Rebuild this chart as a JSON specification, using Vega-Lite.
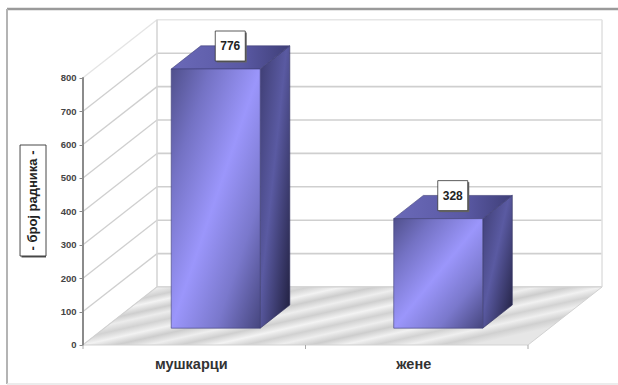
{
  "$schema": "https://vega.github.io/schema/vega-lite/v6.json",
  "autosize": "none",
  "width": 607,
  "height": 373,
  "padding": {"left": 7, "top": 9, "right": 4, "bottom": 3},
  "background": "#ffffff",
  "config": {"view": {"stroke": null}, "font": "Liberation Sans"},
  "resolve": {"axis": {"y": "independent"}},
  "datasets": {
    "bars": [
      {"category": "мушкарци", "value": 776, "slot": 0.5},
      {"category": "жене", "value": 328, "slot": 1.5}
    ],
    "ticks": [
      {"count": 0}, {"count": 100}, {"count": 200}, {"count": 300}, {"count": 400},
      {"count": 500}, {"count": 600}, {"count": 700}, {"count": 800}
    ],
    "floor": [{"depth": 0}, {"depth": 1}],
    "catTicks": [{"edge": 0}, {"edge": 1}, {"edge": 2}]
  },
  "layer": [
    {
      "data": {"name": "ticks"},
      "transform": [{"calculate": "datum.count + 173.6", "as": "backY"}],
      "mark": {"type": "rule", "strokeWidth": 1.3},
      "encoding": {
        "color": {"condition": {"test": "datum.count === 800", "value": "#e4e4e4"}, "value": "#cfcfcf"},
        "x": {"datum": 0, "type": "quantitative", "scale": {"domain": [-0.3416, 2.3865], "nice": false}, "axis": null},
        "x2": {"datum": 0.3326},
        "y": {
          "field": "count", "type": "quantitative",
          "scale": {"domain": [-110.8, 1006], "nice": false},
          "axis": {
            "offset": -76, "values": [0, 100, 200, 300, 400, 500, 600, 700, 800], "title": null, "grid": false,
            "domain": false, "tickColor": "#888888", "tickSize": 4, "labelColor": "#444444",
            "labelFontSize": 9.5, "labelFontWeight": "bold", "labelPadding": 3, "labelFont": "Liberation Sans"
          }
        },
        "y2": {"field": "backY"}
      }
    },
    {
      "data": {"name": "ticks"},
      "transform": [{"calculate": "datum.count + 173.6", "as": "backY"}],
      "mark": {"type": "rule", "strokeWidth": 1.6},
      "encoding": {
        "color": {"condition": {"test": "datum.count === 800", "value": "#e6e6e6"}, "value": "#cfcfcf"},
        "x": {"datum": 0.3326, "type": "quantitative", "scale": {"domain": [-0.3416, 2.3865], "nice": false}, "axis": null},
        "x2": {"datum": 2.3326},
        "y": {"field": "backY", "type": "quantitative", "scale": {"domain": [-110.8, 1006], "nice": false}, "axis": null}
      }
    },
    {
      "data": {"name": "floor"},
      "transform": [{"calculate": "0.3326 + datum.depth * 2", "as": "edgeX"}],
      "mark": {"type": "rule", "strokeWidth": 1.6},
      "encoding": {
        "color": {"condition": {"test": "datum.depth === 1", "value": "#e2e2e2"}, "value": "#d6d6d6"},
        "x": {"field": "edgeX", "type": "quantitative", "scale": {"domain": [-0.3416, 2.3865], "nice": false}, "axis": null},
        "y": {"datum": 173.6, "type": "quantitative", "scale": {"domain": [-110.8, 1006], "nice": false}, "axis": null},
        "y2": {"datum": 973.6}
      }
    },
    {
      "data": {"name": "floor"},
      "transform": [{"calculate": "datum.depth * 0.3326", "as": "left"}, {"calculate": "2 + datum.depth * 0.3326", "as": "right"}, {"calculate": "datum.depth * 173.6", "as": "level"}],
      "mark": {
        "type": "area", "orient": "horizontal", "stroke": "#d2d2d2", "strokeWidth": 1,
        "fill": {
          "gradient": "linear", "x1": 0, "y1": 0, "x2": 1, "y2": 0.5,
          "stops": [
            {"offset": 0, "color": "#dedede"}, {"offset": 0.04, "color": "#f2f2f2"}, {"offset": 0.08, "color": "#cccccc"},
            {"offset": 0.12, "color": "#eeeeee"}, {"offset": 0.17, "color": "#d0d0d0"}, {"offset": 0.21, "color": "#f3f3f3"},
            {"offset": 0.26, "color": "#cecece"}, {"offset": 0.3, "color": "#ececec"}, {"offset": 0.35, "color": "#d2d2d2"},
            {"offset": 0.4, "color": "#f2f2f2"}, {"offset": 0.45, "color": "#cdcdcd"}, {"offset": 0.5, "color": "#eeeeee"},
            {"offset": 0.55, "color": "#cfcfcf"}, {"offset": 0.6, "color": "#f3f3f3"}, {"offset": 0.65, "color": "#d1d1d1"},
            {"offset": 0.7, "color": "#eeeeee"}, {"offset": 0.75, "color": "#cdcdcd"}, {"offset": 0.8, "color": "#f1f1f1"},
            {"offset": 0.85, "color": "#d2d2d2"}, {"offset": 0.9, "color": "#efefef"}, {"offset": 0.95, "color": "#d0d0d0"},
            {"offset": 1, "color": "#e6e6e6"}
          ]
        }
      },
      "encoding": {
        "y": {"field": "level", "type": "quantitative", "scale": {"domain": [-110.8, 1006], "nice": false}, "axis": null},
        "x": {"field": "left", "type": "quantitative", "scale": {"domain": [-0.3416, 2.3865], "nice": false}, "axis": null},
        "x2": {"field": "right"}
      }
    },
    {
      "data": {"name": "ticks"},
      "mark": {"type": "rule", "color": "#8c8c8c", "strokeWidth": 1.2},
      "encoding": {
        "x": {"datum": 0, "type": "quantitative", "scale": {"domain": [-0.3416, 2.3865], "nice": false}, "axis": null},
        "y": {"datum": 0, "type": "quantitative", "scale": {"domain": [-110.8, 1006], "nice": false}, "axis": null},
        "y2": {"datum": 800}
      }
    },
    {
      "data": {"name": "catTicks"},
      "mark": {"type": "rule", "color": "#aaaaaa", "strokeWidth": 1},
      "encoding": {
        "x": {"field": "edge", "type": "quantitative", "scale": {"domain": [-0.3416, 2.3865], "nice": false}, "axis": null},
        "y": {"datum": 0, "type": "quantitative", "scale": {"domain": [-110.8, 1006], "nice": false}, "axis": null},
        "y2": {"datum": -12}
      }
    },
    {
      "data": {"name": "bars"},
      "transform": [
        {"calculate": "0.29", "as": "front"},
        {"calculate": "0.69", "as": "back"},
        {"fold": ["front", "back"], "as": ["face", "depth"]},
        {"calculate": "datum.slot + 0.2 + datum.depth * 0.3326", "as": "sideX"},
        {"calculate": "datum.depth * 173.6", "as": "base"},
        {"calculate": "datum.value + datum.depth * 173.6", "as": "top"}
      ],
      "mark": {
        "type": "area", "stroke": "#33335f", "strokeWidth": 0.6,
        "fill": {
          "gradient": "linear", "x1": 0, "y1": 0, "x2": 1, "y2": 1,
          "stops": [{"offset": 0, "color": "#3e3d72"}, {"offset": 0.45, "color": "#5a5aa2"}, {"offset": 1, "color": "#1f1e3c"}]
        }
      },
      "encoding": {
        "x": {"field": "sideX", "type": "quantitative", "scale": {"domain": [-0.3416, 2.3865], "nice": false}, "axis": null},
        "y": {"field": "base", "type": "quantitative", "scale": {"domain": [-110.8, 1006], "nice": false}, "axis": null},
        "y2": {"field": "top"},
        "detail": {"field": "category"}
      }
    },
    {
      "data": {"name": "bars"},
      "transform": [
        {"calculate": "0.29", "as": "front"},
        {"calculate": "0.69", "as": "back"},
        {"fold": ["front", "back"], "as": ["face", "depth"]},
        {"calculate": "datum.slot - 0.2 + datum.depth * 0.3326", "as": "topLeft"},
        {"calculate": "datum.slot + 0.2 + datum.depth * 0.3326", "as": "topRight"},
        {"calculate": "datum.value + datum.depth * 173.6", "as": "top"}
      ],
      "mark": {
        "type": "area", "orient": "horizontal", "stroke": "#3f3f78", "strokeWidth": 0.6,
        "fill": {
          "gradient": "linear", "x1": 0, "y1": 0, "x2": 1, "y2": 0,
          "stops": [{"offset": 0, "color": "#6a69b8"}, {"offset": 0.6, "color": "#5a59a4"}, {"offset": 1, "color": "#3f3f78"}]
        }
      },
      "encoding": {
        "y": {"field": "top", "type": "quantitative", "scale": {"domain": [-110.8, 1006], "nice": false}, "axis": null},
        "x": {"field": "topLeft", "type": "quantitative", "scale": {"domain": [-0.3416, 2.3865], "nice": false}, "axis": null},
        "x2": {"field": "topRight"},
        "detail": {"field": "category"}
      }
    },
    {
      "data": {"name": "bars"},
      "transform": [
        {"calculate": "datum.slot - 0.2 + 0.29 * 0.3326", "as": "faceLeft"},
        {"calculate": "datum.slot + 0.2 + 0.29 * 0.3326", "as": "faceRight"},
        {"calculate": "0.29 * 173.6", "as": "base"},
        {"calculate": "datum.value + 0.29 * 173.6", "as": "top"}
      ],
      "mark": {
        "type": "rect", "stroke": "#3f3f78", "strokeWidth": 0.6,
        "fill": {
          "gradient": "linear", "x1": 0, "y1": 0, "x2": 1, "y2": 1,
          "stops": [{"offset": 0, "color": "#50508c"}, {"offset": 0.22, "color": "#7472c4"}, {"offset": 0.5, "color": "#9b96fb"}, {"offset": 0.75, "color": "#7a78cc"}, {"offset": 1, "color": "#46467e"}]
        }
      },
      "encoding": {
        "x": {"field": "faceLeft", "type": "quantitative", "scale": {"domain": [-0.3416, 2.3865], "nice": false}, "axis": null},
        "x2": {"field": "faceRight"},
        "y": {"field": "base", "type": "quantitative", "scale": {"domain": [-110.8, 1006], "nice": false}, "axis": null},
        "y2": {"field": "top"}
      }
    },
    {
      "data": {"name": "bars"},
      "transform": [
        {"calculate": "datum.slot + 0.1618", "as": "labelX"},
        {"calculate": "datum.value + 50.3 + 68.9", "as": "labelY"}
      ],
      "layer": [
        {
          "mark": {"type": "point", "shape": "square", "filled": true, "fill": "#666666", "opacity": 1, "size": 900, "xOffset": 1.5, "yOffset": 1.5}
        },
        {
          "mark": {"type": "point", "shape": "square", "filled": true, "fill": "#ffffff", "stroke": "#333333", "strokeWidth": 0.8, "opacity": 1, "size": 900}
        },
        {
          "mark": {"type": "text", "fontSize": 12, "fontWeight": "bold", "color": "#222222", "font": "Liberation Sans"},
          "encoding": {"text": {"field": "value", "type": "quantitative"}}
        }
      ],
      "encoding": {
        "x": {"field": "labelX", "type": "quantitative", "scale": {"domain": [-0.3416, 2.3865], "nice": false}, "axis": null},
        "y": {"field": "labelY", "type": "quantitative", "scale": {"domain": [-110.8, 1006], "nice": false}, "axis": null}
      }
    },
    {
      "data": {"name": "bars"},
      "mark": {"type": "text", "fontSize": 14.5, "fontWeight": "bold", "color": "#333333", "dx": -3, "font": "Liberation Sans"},
      "encoding": {
        "x": {"field": "slot", "type": "quantitative", "scale": {"domain": [-0.3416, 2.3865], "nice": false}, "axis": null},
        "y": {"datum": -60, "type": "quantitative", "scale": {"domain": [-110.8, 1006], "nice": false}, "axis": null},
        "text": {"field": "category"}
      }
    },
    {
      "data": {"values": [{"title": "- број радника -"}]},
      "layer": [
        {
          "mark": {"type": "rect", "fill": "#555555", "xOffset": 1.5, "yOffset": 1.5},
          "encoding": {
            "x": {"datum": -0.283, "type": "quantitative", "scale": {"domain": [-0.3416, 2.3865], "nice": false}, "axis": null},
            "x2": {"datum": -0.1663},
            "y": {"datum": 266.5, "type": "quantitative", "scale": {"domain": [-110.8, 1006], "nice": false}, "axis": null},
            "y2": {"datum": 598.8}
          }
        },
        {
          "mark": {"type": "rect", "fill": "#ffffff", "stroke": "#333333", "strokeWidth": 0.9},
          "encoding": {
            "x": {"datum": -0.283, "type": "quantitative", "scale": {"domain": [-0.3416, 2.3865], "nice": false}, "axis": null},
            "x2": {"datum": -0.1663},
            "y": {"datum": 266.5, "type": "quantitative", "scale": {"domain": [-110.8, 1006], "nice": false}, "axis": null},
            "y2": {"datum": 598.8}
          }
        },
        {
          "mark": {"type": "text", "angle": 270, "fontSize": 13, "fontWeight": "bold", "color": "#222222", "font": "Liberation Sans"},
          "encoding": {
            "x": {"datum": -0.2247, "type": "quantitative", "scale": {"domain": [-0.3416, 2.3865], "nice": false}, "axis": null},
            "y": {"datum": 432.6, "type": "quantitative", "scale": {"domain": [-110.8, 1006], "nice": false}, "axis": null},
            "text": {"field": "title"}
          }
        },
        {
          "mark": {"type": "rule", "color": "#9a9a9a", "strokeWidth": 2.5},
          "encoding": {
            "x": {"datum": -0.3416, "type": "quantitative", "scale": {"domain": [-0.3416, 2.3865], "nice": false}, "axis": null},
            "x2": {"datum": 2.4045},
            "y": {"datum": 1006, "type": "quantitative", "scale": {"domain": [-110.8, 1006], "nice": false}, "axis": null}
          }
        },
        {
          "mark": {"type": "rule", "color": "#b4b4b4", "strokeWidth": 2},
          "encoding": {
            "x": {"datum": -0.3416, "type": "quantitative", "scale": {"domain": [-0.3416, 2.3865], "nice": false}, "axis": null},
            "y": {"datum": 1006, "type": "quantitative", "scale": {"domain": [-110.8, 1006], "nice": false}, "axis": null},
            "y2": {"datum": -116.8}
          }
        },
        {
          "mark": {"type": "rule", "color": "#e6e6e6", "strokeWidth": 1.5},
          "encoding": {
            "x": {"datum": -0.3416, "type": "quantitative", "scale": {"domain": [-0.3416, 2.3865], "nice": false}, "axis": null},
            "x2": {"datum": 2.4045},
            "y": {"datum": -116.8, "type": "quantitative", "scale": {"domain": [-110.8, 1006], "nice": false}, "axis": null}
          }
        }
      ]
    }
  ]
}
